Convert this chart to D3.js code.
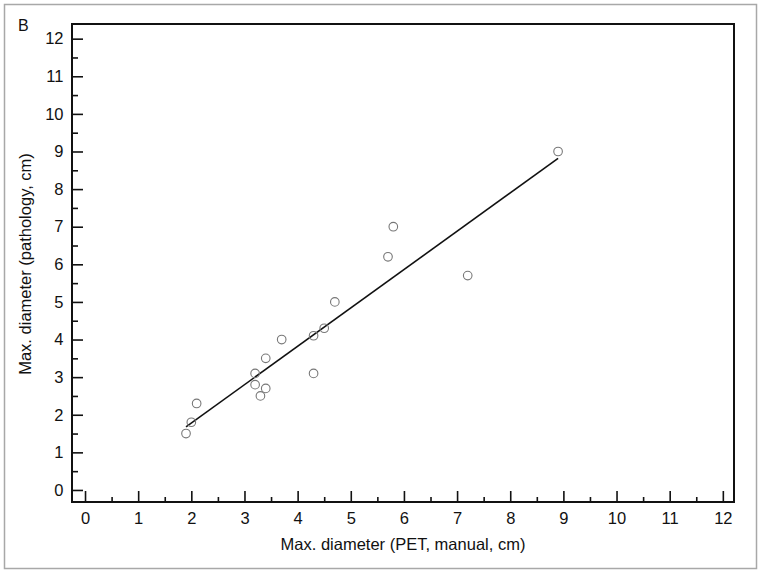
<html>
<head>
    <script src="https://d3js.org/d3.v7.min.js"></script>
    <style>
        body { margin: 0; background: #fff; }
        text { font-family: "Liberation Sans", Arial, sans-serif; fill: #111; }
    </style>
</head>
<body>
<div id="chart"></div>
<script>
    // PET (manual) vs pathology max. diameter, cm
    var petDiameter  = [1.9, 2.0, 2.1, 3.2, 3.2, 3.3, 3.4, 3.4, 3.7, 4.3, 4.3, 4.5, 4.7, 5.7, 5.8, 7.2, 8.9]
    var pathDiameter = [1.5, 1.8, 2.3, 3.1, 2.8, 2.5, 2.7, 3.5, 4.0, 4.1, 3.1, 4.3, 5.0, 6.2, 7.0, 5.7, 9.0]
    var xTicks = d3.range(0, 13)
    var yTicks = d3.range(0, 13)
    var minorTicks = d3.range(0.5, 12.5, 1)

    var width = 763, height = 575
    var plotLeft = 72, plotRight = 734, plotTop = 24, plotBottom = 502

    var svg = d3.select("#chart").append("svg")
        .attr("width", width)
        .attr("height", height)

    // outer figure border
    svg.append("rect")
        .attr("x", 4.5).attr("y", 4.5)
        .attr("width", 752).attr("height", 564)
        .attr("fill", "none")
        .attr("stroke", "#a8a8a8")
        .attr("stroke-width", 1.5)

    var x = d3.scaleLinear().domain([-0.245, 12.21]).range([plotLeft, plotRight])
    var y = d3.scaleLinear().domain([-0.32, 12.39]).range([plotBottom, plotTop])

    // ticks point inward
    var xAxis = d3.axisBottom(x).tickValues(xTicks).tickSize(-11).tickPadding(10).tickFormat(d3.format("d"))
    var xMinor = d3.axisBottom(x).tickValues(minorTicks).tickSize(-5).tickFormat("")
    var yAxis = d3.axisLeft(y).tickValues(yTicks).tickSize(-11).tickPadding(8.5).tickFormat(d3.format("d"))
    var yMinor = d3.axisLeft(y).tickValues(minorTicks).tickSize(-6).tickFormat("")

    function styleAxis(g) {
        g.select(".domain").remove()
        g.selectAll("line").attr("stroke", "#111").attr("stroke-width", 1.6)
        g.selectAll("text").attr("font-size", 16.5).attr("fill", "#111")
    }

    svg.append("g").attr("transform", `translate(0,${plotBottom})`).call(xAxis).call(styleAxis)
    svg.append("g").attr("transform", `translate(0,${plotBottom})`).call(xMinor).call(styleAxis)
    svg.append("g").attr("transform", `translate(${plotLeft},0)`).call(yAxis).call(styleAxis)
    svg.append("g").attr("transform", `translate(${plotLeft},0)`).call(yMinor).call(styleAxis)

    // plot frame
    svg.append("rect")
        .attr("x", plotLeft).attr("y", plotTop)
        .attr("width", plotRight - plotLeft).attr("height", plotBottom - plotTop)
        .attr("fill", "none")
        .attr("stroke", "#111")
        .attr("stroke-width", 2)

    // least squares fit over the data range
    var points = petDiameter.map((d, i) => ({x: d, y: pathDiameter[i]}))
    var mx = d3.mean(points, d => d.x), my = d3.mean(points, d => d.y)
    var sxy = d3.sum(points, d => (d.x - mx) * (d.y - my))
    var sxx = d3.sum(points, d => (d.x - mx) * (d.x - mx))
    var slope = sxy / sxx, intercept = my - slope * mx
    var xr = d3.extent(petDiameter)

    svg.append("path")
        .datum(xr.map(v => [v, intercept + slope * v]))
        .attr("d", d3.line().x(d => x(d[0])).y(d => y(d[1])))
        .attr("fill", "none")
        .attr("stroke", "#111")
        .attr("stroke-width", 1.6)

    svg.selectAll("circle.pt")
        .data(points)
        .join("circle")
            .attr("class", "pt")
            .attr("cx", d => x(d.x))
            .attr("cy", d => y(d.y))
            .attr("r", 4.3)
            .attr("fill", "none")
            .attr("stroke", "#777")
            .attr("stroke-width", 1.1)

    svg.append("text")
        .attr("x", (plotLeft + plotRight) / 2)
        .attr("y", 550)
        .attr("text-anchor", "middle")
        .attr("font-size", 16.5)
        .text("Max. diameter (PET, manual, cm)")

    svg.append("text")
        .attr("transform", `translate(31,${264}) rotate(-90)`)
        .attr("text-anchor", "middle")
        .attr("font-size", 16.5)
        .text("Max. diameter (pathology, cm)")

    svg.append("text")
        .attr("x", 18)
        .attr("y", 31)
        .attr("font-size", 16)
        .text("B")
</script>
</body>
</html>
